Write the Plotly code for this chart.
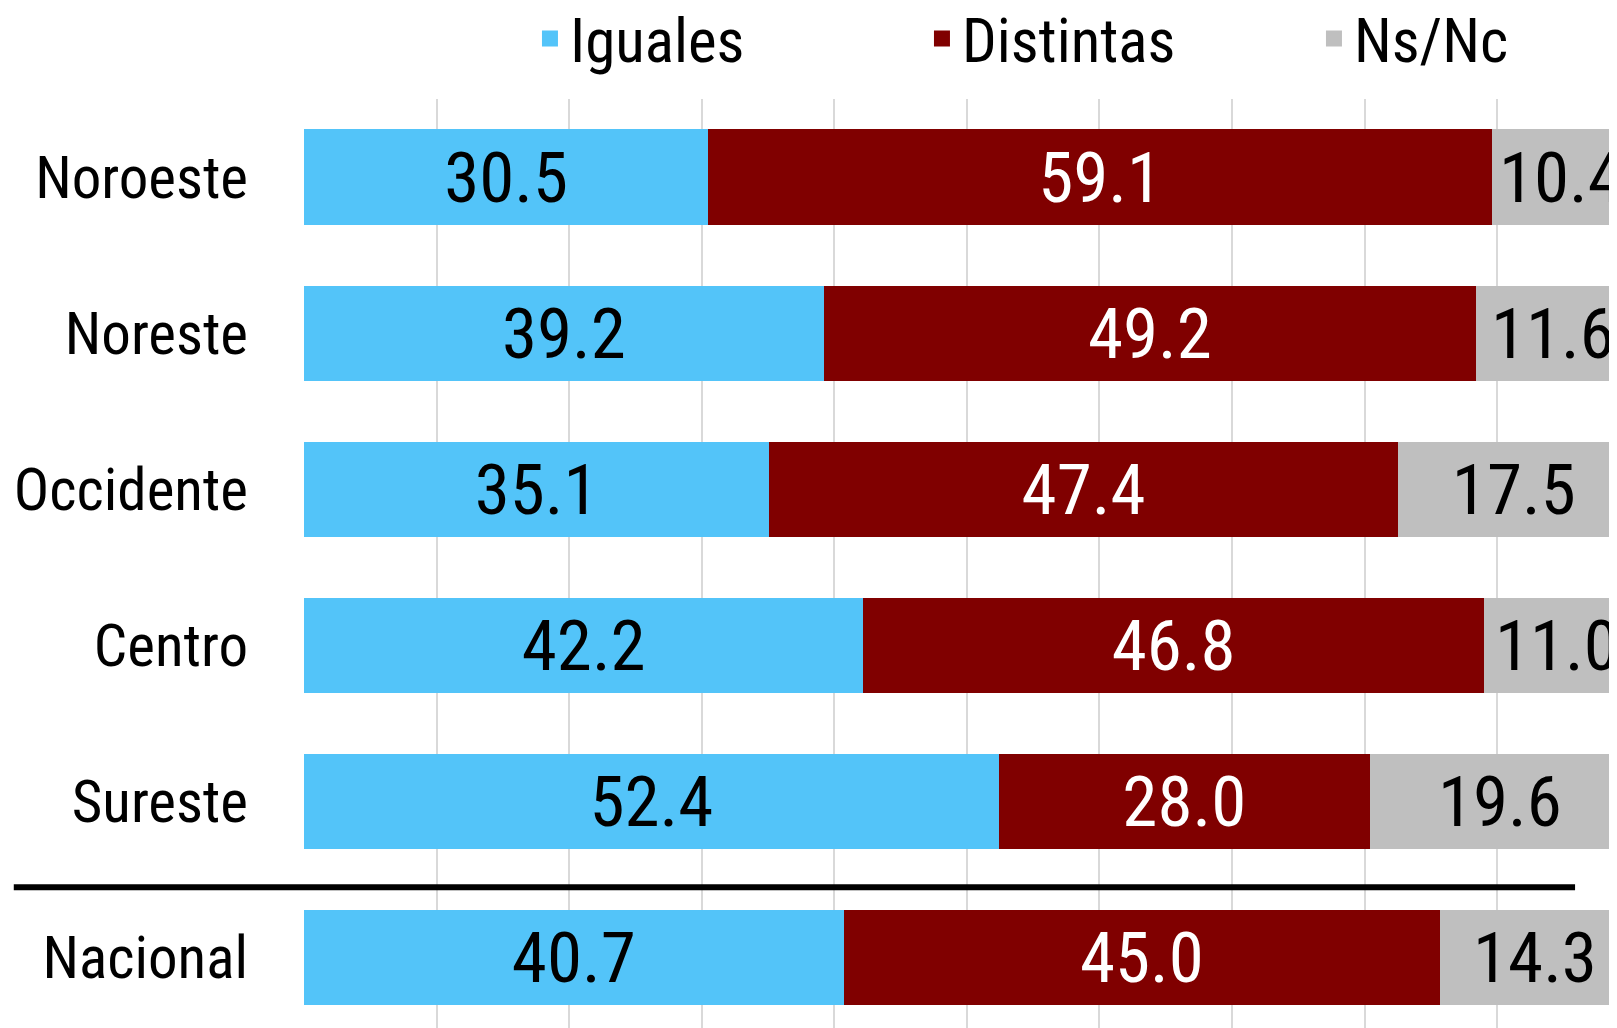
import plotly.graph_objects as go

FONT = "Liberation Sans Narrow, Roboto Condensed, DejaVu Sans Condensed, sans-serif"

regions = ["Noroeste", "Noreste", "Occidente", "Centro", "Sureste", "Nacional"]
iguales = [30.5, 39.2, 35.1, 42.2, 52.4, 40.7]
distintas = [59.1, 49.2, 47.4, 46.8, 28.0, 45.0]
nsnc = [10.4, 11.6, 17.5, 11.0, 19.6, 14.3]

series = [
    ("Iguales", iguales, "#53C4F9", "black"),
    ("Distintas", distintas, "#800000", "white"),
    ("Ns/Nc", nsnc, "#BFBFBF", "black"),
]

fig = go.Figure()
for name, vals, color, txtcolor in series:
    fig.add_trace(
        go.Bar(
            name=name,
            y=regions,
            x=vals,
            orientation="h",
            width=0.61,
            marker=dict(color=color, line=dict(width=0)),
            texttemplate="%{x:.1f}",
            textposition="inside",
            insidetextanchor="middle",
            constraintext="none",
            textangle=0,
            textfont=dict(family=FONT, size=71, color=txtcolor),
            legendgroup=name,
            showlegend=False,
        )
    )
    # legend-only entry so the square can be bigger than the bar swatch
    fig.add_trace(
        go.Scatter(
            name=name,
            x=[None],
            y=[None],
            mode="markers",
            marker=dict(symbol="square", size=16, color=color),
            legendgroup=name,
            showlegend=True,
        )
    )

# black separator between regions and the national total
fig.add_shape(
    type="line",
    xref="paper",
    yref="y",
    x0=-0.2197,
    x1=0.9622,
    y0=4.55,
    y1=4.55,
    line=dict(color="black", width=6),
)

fig.update_layout(
    width=1617,
    height=1028,
    barmode="stack",
    plot_bgcolor="white",
    paper_bgcolor="white",
    margin=dict(l=296, r=0, t=91, b=0, autoexpand=False),
    font=dict(family=FONT, color="black"),
    legend=dict(
        orientation="h",
        xref="container",
        yref="container",
        x=0.3228,
        y=0.970,
        xanchor="left",
        yanchor="middle",
        font=dict(family=FONT, size=61),
        entrywidth=347,
        entrywidthmode="pixels",
        traceorder="normal",
        itemsizing="trace",
    ),
    xaxis=dict(
        range=[0, 99.64],
        dtick=10,
        showgrid=True,
        gridcolor="#D9D9D9",
        gridwidth=1.5,
        zeroline=False,
        showticklabels=False,
        showline=False,
    ),
    yaxis=dict(
        type="category",
        categoryorder="array",
        categoryarray=regions,
        range=[5.503, -0.5],
        automargin=False,
        showgrid=False,
        zeroline=False,
        showline=False,
        ticks="",
        ticklabelstandoff=55,
        tickfont=dict(family=FONT, size=59, color="black"),
    ),
)

fig.write_html("out.html")
